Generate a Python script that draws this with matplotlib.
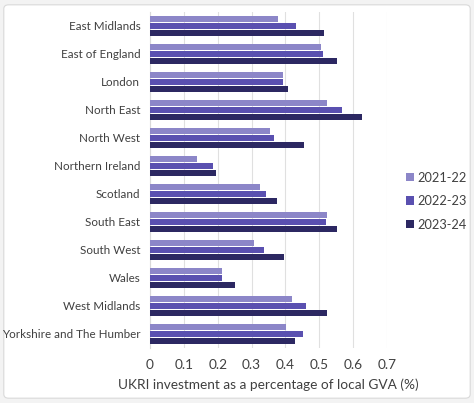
import matplotlib
matplotlib.use("Agg")
import matplotlib.pyplot as plt
from matplotlib.patches import FancyBboxPatch
import numpy as np

regions = [
    "East Midlands", "East of England", "London", "North East", "North West",
    "Northern Ireland", "Scotland", "South East", "South West", "Wales",
    "West Midlands", "Yorkshire and The Humber",
]
years = ["2021-22", "2022-23", "2023-24"]
v2122 = [0.377, 0.506, 0.394, 0.523, 0.354, 0.140, 0.326, 0.523, 0.306, 0.213, 0.418, 0.403]
v2223 = [0.430, 0.510, 0.393, 0.566, 0.367, 0.186, 0.343, 0.521, 0.338, 0.213, 0.461, 0.452]
v2324 = [0.513, 0.553, 0.408, 0.625, 0.454, 0.196, 0.374, 0.551, 0.395, 0.251, 0.524, 0.427]
xticks = [0, 0.1, 0.2, 0.3, 0.4, 0.5, 0.6, 0.7]
xtick_labels = ["0", "0.1", "0.2", "0.3", "0.4", "0.5", "0.6", "0.7"]

colors = ["#8c86c8", "#5a50b0", "#2c2862"]
txt = "#404040"

plt.rcParams["font.family"] = ["Lato", "DejaVu Sans"]

fig = plt.figure(figsize=(4.74, 4.03), dpi=100)
fig.patch.set_facecolor("#f3f3f3")
frame = FancyBboxPatch((0.008, 0.012), 0.984, 0.976, boxstyle="round,pad=0,rounding_size=0.01",
                       transform=fig.transFigure, facecolor="white", edgecolor="#d9d9d9",
                       linewidth=0.8, zorder=-10)
fig.patches.append(frame)

ax = fig.add_axes([150 / 474, 1 - 348 / 403, (387 - 150) / 474, (348 - 12) / 403])
ax.set_facecolor("none")

y = np.arange(len(regions))
h = 0.22
step = 0.25
for i, (vals, lab) in enumerate(zip([v2122, v2223, v2324], years)):
    ax.barh(y + (i - 1) * step, vals, height=h, color=colors[i], label=lab, zorder=3)

ax.set_ylim(len(regions) - 0.5, -0.5)
ax.set_xlim(0, 0.7)
ax.set_yticks(y)
ax.set_yticklabels(regions, fontsize=8.4, color=txt)
ax.set_xticks(xticks)
ax.set_xticklabels(xtick_labels, fontsize=9.8, color=txt)
ax.tick_params(axis="both", length=0)
ax.tick_params(axis="y", pad=7)
ax.tick_params(axis="x", pad=8)
ax.grid(axis="x", color="#e0e0e0", linewidth=0.8, zorder=0)
for s in ["top", "right", "bottom"]:
    ax.spines[s].set_visible(False)
ax.spines["left"].set_color("#d9d9d9")
ax.spines["left"].set_linewidth(0.8)
ax.set_xlabel("UKRI investment as a percentage of local GVA (%)", fontsize=9.8, color=txt, labelpad=5)

ax.legend(loc="center left", bbox_to_anchor=((406 - 150) / 237, 1 - (201 - 12) / 336),
          frameon=False, fontsize=9.2, borderpad=0, borderaxespad=0,
          handlelength=0.6, handleheight=0.6, handletextpad=0.3, labelspacing=0.9,
          labelcolor=txt)

fig.savefig("out.png", dpi=100, facecolor=fig.get_facecolor())
